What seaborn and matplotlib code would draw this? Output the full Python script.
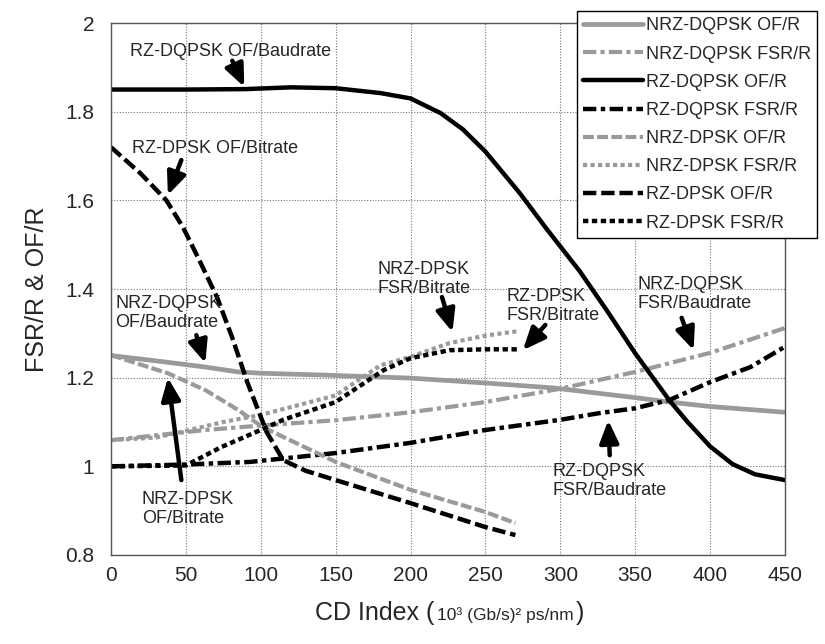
import matplotlib
matplotlib.use("Agg")
import matplotlib.pyplot as plt
from matplotlib.offsetbox import TextArea, HPacker, AnchoredOffsetbox
import seaborn as sns

# ---- data -----------------------------------------------------------------
nrz_dqpsk_of_x = [0, 30, 63, 85, 100, 141, 200, 250, 295, 350, 373, 400, 450]
nrz_dqpsk_of_y = [1.25, 1.238, 1.224, 1.213, 1.21, 1.206, 1.199, 1.188, 1.177, 1.155, 1.145, 1.135, 1.122]

nrz_dqpsk_fsr_x = [0, 63, 100, 150, 200, 250, 300, 350, 400, 450]
nrz_dqpsk_fsr_y = [1.059, 1.082, 1.092, 1.104, 1.122, 1.145, 1.175, 1.213, 1.256, 1.312]

rz_dqpsk_of_x = [0, 50, 90, 120, 150, 180, 200, 220, 235, 250, 273, 291, 313, 331, 350,
                 373, 385, 400, 415, 430, 450]
rz_dqpsk_of_y = [1.85, 1.85, 1.851, 1.855, 1.853, 1.842, 1.83, 1.797, 1.76, 1.71, 1.616,
                 1.535, 1.44, 1.352, 1.255, 1.148, 1.10, 1.045, 1.005, 0.982, 0.969]

rz_dqpsk_fsr_x = [0, 49, 93, 150, 200, 250, 300, 326, 350, 373, 400, 427, 450]
rz_dqpsk_fsr_y = [1.0, 1.004, 1.01, 1.03, 1.053, 1.082, 1.105, 1.12, 1.131, 1.15, 1.19, 1.224, 1.27]

nrz_dpsk_of_x = [0, 38, 63, 85, 101, 150, 200, 250, 270]
nrz_dpsk_of_y = [1.251, 1.21, 1.172, 1.127, 1.089, 1.01, 0.947, 0.897, 0.872]

nrz_dpsk_fsr_x = [0, 30, 50, 75, 100, 150, 180, 200, 226, 250, 272]
nrz_dpsk_fsr_y = [1.059, 1.065, 1.08, 1.1, 1.116, 1.16, 1.228, 1.247, 1.278, 1.295, 1.305]

rz_dpsk_of_x = [0, 20, 37, 48, 59, 71, 81, 91, 104, 115, 130, 150, 200, 250, 270]
rz_dpsk_of_y = [1.72, 1.66, 1.60, 1.54, 1.465, 1.38, 1.29, 1.19, 1.077, 1.014, 0.99, 0.969,
                0.917, 0.863, 0.845]

rz_dpsk_fsr_x = [0, 50, 74, 100, 115, 150, 182, 200, 226, 250, 272]
rz_dpsk_fsr_y = [1.0, 1.002, 1.044, 1.082, 1.105, 1.145, 1.217, 1.244, 1.262, 1.264, 1.264]

x_ticks = [0, 50, 100, 150, 200, 250, 300, 350, 400, 450]
y_ticks = [0.8, 1.0, 1.2, 1.4, 1.6, 1.8, 2.0]

GRAY = "#9a9a9a"
BLACK = "#000000"

series = [
    ("NRZ-DQPSK OF/R", nrz_dqpsk_of_x, nrz_dqpsk_of_y, GRAY, 3.4, "-"),
    ("NRZ-DQPSK FSR/R", nrz_dqpsk_fsr_x, nrz_dqpsk_fsr_y, GRAY, 3.0, (0, (3.2, 1, 1, 1))),
    ("RZ-DQPSK OF/R", rz_dqpsk_of_x, rz_dqpsk_of_y, BLACK, 3.2, "-"),
    ("RZ-DQPSK FSR/R", rz_dqpsk_fsr_x, rz_dqpsk_fsr_y, BLACK, 3.2, (0, (3, 1, 1, 1))),
    ("NRZ-DPSK OF/R", nrz_dpsk_of_x, nrz_dpsk_of_y, GRAY, 3.0, (0, (2.6, 0.8))),
    ("NRZ-DPSK FSR/R", nrz_dpsk_fsr_x, nrz_dpsk_fsr_y, GRAY, 3.0, (0, (1, 0.8))),
    ("RZ-DPSK OF/R", rz_dpsk_of_x, rz_dpsk_of_y, BLACK, 3.2, (0, (3, 1.1))),
    ("RZ-DPSK FSR/R", rz_dpsk_fsr_x, rz_dpsk_fsr_y, BLACK, 3.2, (0, (1.2, 0.8))),
]

# text, text position, alignment, arrow tail, arrow head
notes = [
    ("RZ-DQPSK OF/Baudrate", (13, 1.935), "left", (81, 1.915), (89, 1.856)),
    ("RZ-DPSK OF/Bitrate", (14, 1.718), "left", (47, 1.691), (38, 1.612)),
    ("NRZ-DQPSK\nOF/Baudrate", (2.7, 1.346), "left", (57, 1.296), (63, 1.233)),
    ("NRZ-DPSK\nOF/Bitrate", (20.7, 0.904), "left", (47, 0.969), (38, 1.20)),
    ("NRZ-DPSK\nFSR/Bitrate", (209, 1.4225), "center", (221, 1.382), (228, 1.303)),
    ("RZ-DPSK\nFSR/Bitrate", (264.4, 1.362), "left", (290, 1.319), (275, 1.262)),
    ("NRZ-DQPSK\nFSR/Baudrate", (351.8, 1.389), "left", (381, 1.335), (389, 1.262)),
    ("RZ-DQPSK\nFSR/Baudrate", (295, 0.967), "left", (333, 1.025), (332, 1.104)),
]

sns.set_style("white")
plt.rcParams["font.family"] = ["Liberation Sans", "DejaVu Sans"]

fig = plt.figure(figsize=(8.25, 6.44), dpi=100)
ax = fig.add_axes([0.1345, 0.1382, 0.817, 0.826])

for label, xs, ys, color, lw, ls in series:
    sns.lineplot(x=xs, y=ys, ax=ax, color=color, lw=lw, linestyle=ls,
                 label=label, errorbar=None, sort=False)

for text, (tx, ty), ha, tail, head in notes:
    ax.text(tx, ty, text, ha=ha, va="center", fontsize=13, linespacing=1.1,
            multialignment="left")
    ax.annotate("", xy=head, xytext=tail,
                arrowprops=dict(arrowstyle="-|>,head_length=0.75,head_width=0.32",
                                lw=3.2, color="black", shrinkA=0, shrinkB=0,
                                mutation_scale=18))

ax.set_xlim(0, 450)
ax.set_ylim(0.8, 2.0)
ax.set_xticks(x_ticks)
ax.set_yticks(y_ticks)
ax.set_yticklabels(["%g" % v for v in y_ticks])
ax.tick_params(labelsize=15, length=0)
ax.tick_params(axis="x", pad=8)
ax.tick_params(axis="y", pad=12)
ax.grid(True, color="#777777", lw=0.8, linestyle=(0, (1, 1.5)))
for sp in ax.spines.values():
    sp.set_color("#555555")
    sp.set_linewidth(1.0)
    sp.set_linestyle((0, (1, 1)))

ax.set_ylabel("FSR/R & OF/R", fontsize=18, labelpad=12)
ax.set_xlabel("")

# x label with the smaller unit part
parts = HPacker(children=[
    TextArea("CD Index (", textprops=dict(fontsize=18, family=["Liberation Sans"])),
    TextArea("10³ (Gb/s)² ps/nm", textprops=dict(fontsize=12.5, family=["Liberation Sans"])),
    TextArea(")", textprops=dict(fontsize=18, family=["Liberation Sans"])),
], align="baseline", pad=0, sep=2)
box = AnchoredOffsetbox(loc="center", child=parts, frameon=False,
                        bbox_to_anchor=(0.545, 0.048), bbox_transform=fig.transFigure,
                        borderpad=0, pad=0)
fig.add_artist(box)

leg = ax.legend(loc="upper left", bbox_to_anchor=(577 / 825, 1 - 11 / 644),
                bbox_transform=fig.transFigure, fontsize=13, frameon=True,
                fancybox=False, edgecolor="black", framealpha=1,
                handlelength=3.3, handletextpad=0.15, labelspacing=0.62,
                borderpad=0.35, borderaxespad=0)
leg.get_frame().set_linewidth(1.0)

fig.savefig("out.png", dpi=100)
